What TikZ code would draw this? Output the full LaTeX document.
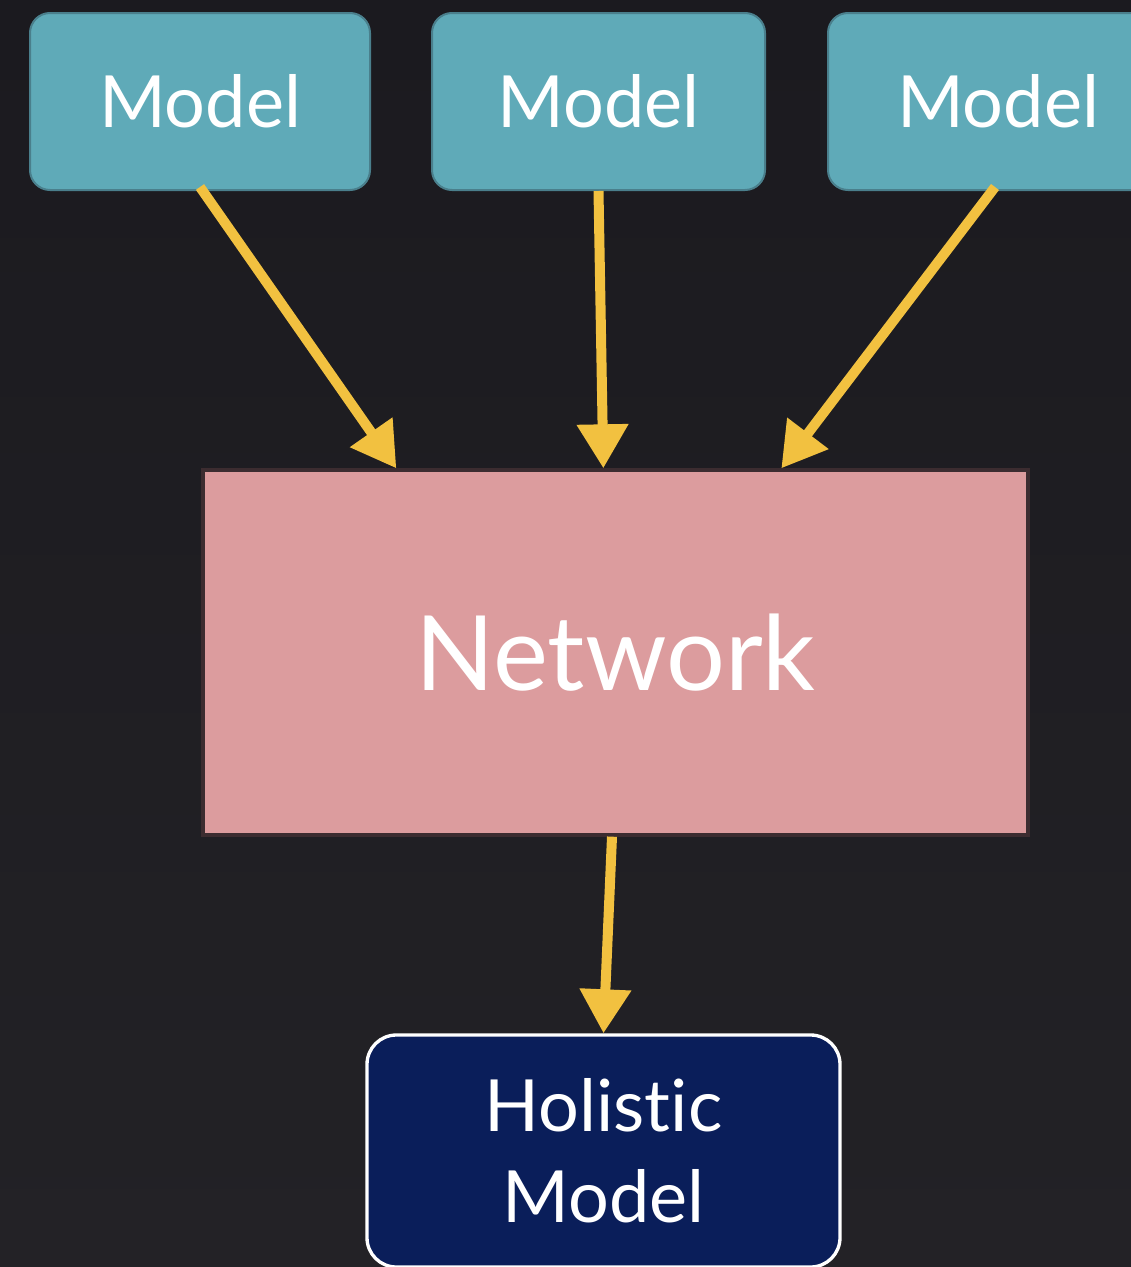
\documentclass[tikz,border=0pt]{standalone}
\usepackage{fontspec}
\setmainfont{Lato}[Ligatures={CommonOff,ContextualOff,RareOff}]
\usetikzlibrary{arrows.meta,calc}
\definecolor{bgtop}{HTML}{1B1A1F}
\definecolor{bgbot}{HTML}{232226}
\definecolor{teal}{HTML}{5FAAB8}
\definecolor{tealdark}{HTML}{4A7F8C}
\definecolor{pinkfill}{HTML}{DC9C9E}
\definecolor{pinkborder}{HTML}{3C2C30}
\definecolor{navy}{HTML}{0A1E5A}
\definecolor{arrowyellow}{HTML}{F2C140}
\tikzset{
  modelbox/.style={draw=tealdark, line width=1.5pt, fill=teal, rounded corners=15pt,
    minimum height=132.75pt, text=white, font=\fontsize{54}{60}\selectfont, inner sep=0pt},
  netbox/.style={draw=pinkborder, line width=2.5pt, fill=pinkfill, minimum width=618.75pt,
    minimum height=273.75pt, text=white, font=\fontsize{78}{90}\selectfont, inner sep=0pt},
  holbox/.style={draw=white, line width=2.5pt, fill=navy, rounded corners=22pt,
    minimum width=354.75pt, minimum height=174pt, text=white, align=center,
    font=\fontsize{54}{68}\selectfont, inner sep=0pt},
  flow/.style={draw=arrowyellow, line width=7.5pt, -{Triangle[width=37pt,length=33pt]}}
}
\begin{document}
\begin{tikzpicture}[x=0.75pt,y=-0.75pt]
  \shade[top color=bgtop, bottom color=bgbot] (0,0) rectangle (1131,1267);
  \useasboundingbox (0,0) rectangle (1131,1267);
  \node[modelbox, minimum width=255pt] (m1) at (200,101.5) {Model};
  \node[modelbox, minimum width=249.75pt] (m2) at (598.5,101.5) {Model};
  \node[modelbox, minimum width=255pt] (m3) at (998,101.5) {Model};
  \node[netbox] (net) at (615.5,652.5) {Network};
  \node[holbox] (hol) at (603.5,1151) {Holistic\\Model};
  \coordinate (n1) at ($(net.north west)+(195,0)$);
  \coordinate (n2) at ($(net.north west)+(402,0)$);
  \coordinate (n3) at ($(net.north west)+(580,0)$);
  \coordinate (s1) at ($(m1.south)+(0,-4)$);
  \coordinate (s3) at ($(m3.south)+(-3,-4)$);
  \coordinate (t4) at ($(net.south)+(-3.5,0)$);
  \draw[flow] (s1) -- (n1);
  \draw[flow] (m2.south) -- (n2);
  \draw[flow] (s3) -- (n3);
  \draw[flow] (t4) -- (hol.north);
\end{tikzpicture}
\end{document}
